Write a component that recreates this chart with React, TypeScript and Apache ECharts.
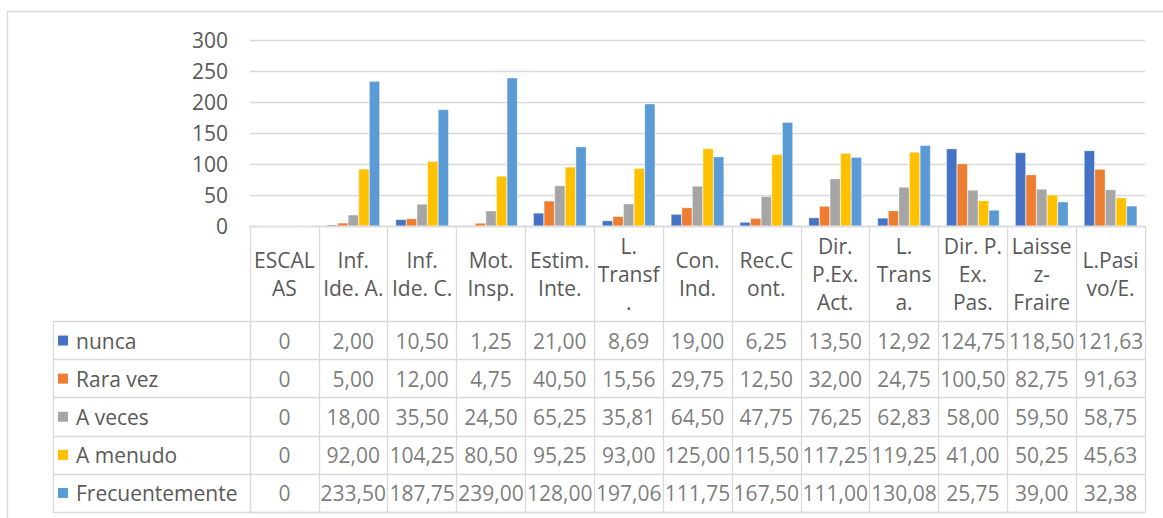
import React, { useEffect, useRef } from "react";
import * as echarts from "echarts";

const categories = [
  "ESCAL\nAS",
  "Inf.\nIde. A.",
  "Inf.\nIde. C.",
  "Mot.\nInsp.",
  "Estim.\nInte.",
  "L.\nTransf\n.",
  "Con.\nInd.",
  "Rec.C\nont.",
  "Dir.\nP.Ex.\nAct.",
  "L.\nTrans\na.",
  "Dir. P.\nEx.\nPas.",
  "Laisse\nz-\nFraire",
  "L.Pasi\nvo/E.",
];
const seriesNames = ["nunca", "Rara vez", "A veces", "A menudo", "Frecuentemente"];
const seriesColors = ["#4472C4", "#ED7D31", "#A5A5A5", "#FFC000", "#5B9BD5"];
const nunca = [0, 2.0, 10.5, 1.25, 21.0, 8.69, 19.0, 6.25, 13.5, 12.92, 124.75, 118.5, 121.63];
const raraVez = [0, 5.0, 12.0, 4.75, 40.5, 15.56, 29.75, 12.5, 32.0, 24.75, 100.5, 82.75, 91.63];
const aVeces = [0, 18.0, 35.5, 24.5, 65.25, 35.81, 64.5, 47.75, 76.25, 62.83, 58.0, 59.5, 58.75];
const aMenudo = [0, 92.0, 104.25, 80.5, 95.25, 93.0, 125.0, 115.5, 117.25, 119.25, 41.0, 50.25, 45.63];
const frecuentemente = [0, 233.5, 187.75, 239.0, 128.0, 197.06, 111.75, 167.5, 111.0, 130.08, 25.75, 39.0, 32.38];
const yMin = 0;
const yMax = 300;
const yInterval = 50;

const allSeries = [nunca, raraVez, aVeces, aMenudo, frecuentemente];

const FONT = "'Open Sans', sans-serif";
const TEXT = "#595959";
const LINE = "#d9d9d9";

function fmt(v: number, col: number) {
  if (col === 0) return String(v);
  return v.toFixed(2).replace(".", ",");
}

export default function App() {
  const ref = useRef<HTMLDivElement>(null);
  useEffect(() => {
    if (!ref.current) return;
    const chart = echarts.init(ref.current, null, { renderer: "svg" });

    const tableData: any[] = [];
    allSeries.forEach((arr, r) => {
      arr.forEach((v, c) => tableData.push([c, r, v]));
    });

    const rich: any = { t: { fontFamily: FONT, fontSize: 21, color: TEXT, padding: [0, 0, 0, 8] } };
    seriesColors.forEach((col, i) => {
      rich["s" + i] = { width: 10, height: 10, backgroundColor: col };
    });

    const option: any = {
      animation: false,
      textStyle: { fontFamily: FONT },
      graphic: [
        {
          type: "rect",
          shape: { x: 7.5, y: 11.5, width: 1300, height: 700 },
          style: { fill: "none", stroke: LINE, lineWidth: 1.3 },
          silent: true,
        },
      ],
      grid: [
        { left: 250, right: 18, top: 40, height: 186, outerBoundsMode: "none" },
        { left: 250, right: 18, top: 321.5, bottom: 6, outerBoundsMode: "none" },
      ],
      xAxis: [
        {
          gridIndex: 0,
          type: "category",
          data: categories,
          axisLine: { show: true, lineStyle: { color: LINE, width: 1.3 } },
          axisTick: { show: true, interval: 0, length: 95.5, inside: false, lineStyle: { color: LINE, width: 1.3 } },
          axisLabel: {
            interval: 0,
            margin: 47.5,
            verticalAlign: "middle",
            fontFamily: FONT,
            fontSize: 21,
            lineHeight: 28,
            color: TEXT,
          },
          splitLine: { show: false },
        },
        {
          gridIndex: 1,
          type: "category",
          data: categories,
          position: "bottom",
          axisLine: { show: true, lineStyle: { color: LINE, width: 1.3 } },
          axisTick: { show: false },
          axisLabel: { show: false },
          splitLine: { show: true, interval: 0, lineStyle: { color: LINE, width: 1.3 } },
        },
      ],
      yAxis: [
        {
          gridIndex: 0,
          type: "value",
          min: yMin,
          max: yMax,
          interval: yInterval,
          axisLine: { show: false },
          axisTick: { show: false },
          axisLabel: { margin: 22, fontFamily: FONT, fontSize: 21, color: TEXT },
          splitLine: { show: true, lineStyle: { color: LINE, width: 1.3 } },
        },
        {
          gridIndex: 1,
          type: "category",
          data: seriesNames,
          inverse: true,
          axisLine: { show: true, lineStyle: { color: LINE, width: 1.3 } },
          axisTick: { show: true, interval: 0, length: 197, inside: false, lineStyle: { color: LINE, width: 1.3 } },
          axisLabel: {
            interval: 0,
            margin: 192,
            align: "left",
            formatter: (value: string, idx: number) => `{s${idx}|}{t|${value}}`,
            rich,
          },
          splitLine: { show: true, interval: 0, lineStyle: { color: LINE, width: 1.3 } },
        },
        {
          gridIndex: 1,
          type: "category",
          data: seriesNames,
          inverse: true,
          position: "left",
          offset: 197,
          axisLine: { show: true, lineStyle: { color: LINE, width: 1.3 } },
          axisTick: { show: false },
          axisLabel: { show: false },
          splitLine: { show: false },
        },
      ],
      series: [
        ...allSeries.map((arr, i) => ({
          name: seriesNames[i],
          type: "bar",
          xAxisIndex: 0,
          yAxisIndex: 0,
          data: arr,
          barGap: "0%",
          barCategoryGap: "23%",
          itemStyle: { color: seriesColors[i], borderColor: "rgba(255,255,255,0.6)", borderWidth: 0.5 },
        })),
        {
          type: "scatter",
          xAxisIndex: 1,
          yAxisIndex: 1,
          data: tableData,
          symbolSize: 1,
          itemStyle: { color: "rgba(0,0,0,0)" },
          label: {
            show: true,
            position: "inside",
            formatter: (p: any) => fmt(p.value[2], p.value[0]),
            fontFamily: FONT,
            fontSize: 21,
            color: TEXT,
          },
          silent: true,
        },
      ],
    };
    chart.setOption(option);
    return () => chart.dispose();
  }, []);
  return (
    <div
      ref={ref}
      style={{ position: "absolute", left: 0, top: 0, width: 1163, height: 518, background: "#fff" }}
    />
  );
}
